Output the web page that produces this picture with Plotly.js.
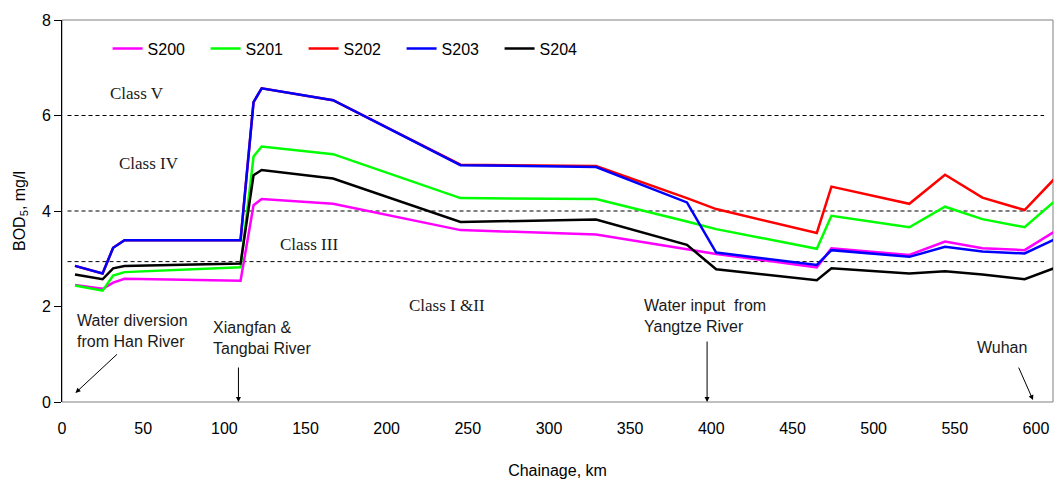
<!DOCTYPE html>
<html>
<head>
<meta charset="utf-8">
<script src="https://cdn.plot.ly/plotly-3.0.1.min.js"></script>
<style>html,body{margin:0;padding:0;background:#fff;}#chart{width:1054px;height:483px;}</style>
</head>
<body>
<div id="chart"></div>
<script>
// Chainage (km)
const chainage = [8, 25, 31.5, 38.5, 110, 118, 123, 167, 245.5, 329, 385, 403, 465, 474, 522, 544, 567, 593, 611];
// BOD5 (mg/l) per scenario
const S200 = [2.45, 2.37, 2.50, 2.58, 2.54, 4.12, 4.25, 4.15, 3.60, 3.51, 3.20, 3.10, 2.82, 3.22, 3.08, 3.36, 3.22, 3.18, 3.56];
const S201 = [2.44, 2.33, 2.65, 2.72, 2.82, 5.14, 5.35, 5.19, 4.27, 4.25, 3.78, 3.62, 3.21, 3.90, 3.66, 4.09, 3.83, 3.66, 4.19];
const S202 = [2.85, 2.69, 3.23, 3.39, 3.39, 6.28, 6.57, 6.32, 4.97, 4.94, 4.27, 4.04, 3.54, 4.51, 4.15, 4.76, 4.28, 4.02, 4.66];
const S203 = [2.85, 2.69, 3.23, 3.39, 3.39, 6.28, 6.57, 6.32, 4.96, 4.92, 4.18, 3.13, 2.87, 3.18, 3.04, 3.25, 3.15, 3.11, 3.40];
const S204 = [2.67, 2.57, 2.80, 2.85, 2.90, 4.75, 4.86, 4.68, 3.77, 3.82, 3.29, 2.78, 2.55, 2.80, 2.69, 2.74, 2.67, 2.57, 2.80];
const seriesNames = ["S200", "S201", "S202", "S203", "S204"];
const seriesColors = ["#FF00FF", "#00FF00", "#FF0000", "#0000FF", "#000000"];
// Water quality class limits (dashed lines)
const classLimits = [2.94, 4, 6];
const classLabels = ["Class V", "Class IV", "Class III", "Class I &II"];
const classLabelPos = [[45.9, 6.47], [53.3, 5.0], [152.4, 3.29], [237.2, 2.03]];
const yTicks = [0, 2, 4, 6, 8];
const xTicks = [0, 50, 100, 150, 200, 250, 300, 350, 400, 450, 500, 550, 600];

const allSeries = [S200, S201, S202, S203, S204];
const traces = allSeries.map((ys, i) => ({
  x: chainage, y: ys, type: 'scatter', mode: 'lines', name: seriesNames[i],
  line: {color: seriesColors[i], width: 2.5}
}));

const shapes = [
  {type: 'rect', xref: 'paper', yref: 'paper', x0: 0, x1: 1, y0: 0, y1: 1,
   line: {color: '#808080', width: 1}, layer: 'below'}
].concat(classLimits.map(v => ({
  type: 'line', xref: 'x', yref: 'y', x0: 3.4, x1: 605, y0: v, y1: v,
  line: {color: '#000', width: 1, dash: '4px,3px'}, layer: 'below'
})));

const sansFont = {family: 'Liberation Sans, Arial, sans-serif', size: 16, color: '#1a1a1a'};
const serifFont = {family: 'Liberation Serif, Times New Roman, serif', size: 17, color: '#1a1a1a'};
const arrowStyle = {text: '', showarrow: true, arrowhead: 2, arrowsize: 1, arrowwidth: 1, arrowcolor: '#000', standoff: 0};

const annotations = classLabels.map((t, i) => ({
  x: classLabelPos[i][0], y: classLabelPos[i][1], text: t, showarrow: false,
  font: serifFont, xanchor: 'center', yanchor: 'middle'
})).concat([
  {x: 7.7, y: 1.49, text: 'Water diversion<br>from Han River', showarrow: false, align: 'left', xanchor: 'left', yanchor: 'middle', font: sansFont},
  {x: 91.5, y: 1.34, text: 'Xiangfan &amp;<br>Tangbai River', showarrow: false, align: 'left', xanchor: 'left', yanchor: 'middle', font: sansFont},
  {x: 357.5, y: 1.80, text: 'Water input\u00a0 from<br>Yangtze River', showarrow: false, align: 'left', xanchor: 'left', yanchor: 'middle', font: sansFont},
  {x: 578.8, y: 1.15, text: 'Wuhan', showarrow: false, xanchor: 'center', yanchor: 'middle', font: sansFont},
  // arrows
  Object.assign({x: 8.3, y: 0.19, ax: 43, ay: -40}, arrowStyle),
  Object.assign({x: 108.7, y: 0, ax: 0, ay: -36}, arrowStyle),
  Object.assign({x: 397.4, y: 0, ax: 0, ay: -62}, arrowStyle),
  Object.assign({x: 598.2, y: 0.04, ax: -15, ay: -34}, arrowStyle)
]);

const layout = {
  width: 1054, height: 483,
  margin: {l: 62, r: 1, t: 20, b: 81},
  paper_bgcolor: '#fff', plot_bgcolor: '#fff',
  font: {family: 'Liberation Sans, Arial, sans-serif', size: 16, color: '#000'},
  showlegend: true,
  legend: {orientation: 'h', x: 0.046, y: 0.925, xanchor: 'left', yanchor: 'middle',
           bgcolor: 'rgba(0,0,0,0)', font: {size: 16, color: '#000'},
           entrywidth: 53, entrywidthmode: 'pixels', tracegroupgap: 0},
  xaxis: {range: [0, 610.5], tickvals: xTicks, ticktext: xTicks.map(String),
          showgrid: false, zeroline: false, showline: false,
          ticks: 'outside', ticklen: 12, tickcolor: 'rgba(0,0,0,0)',
          tickfont: {size: 16, color: '#000'},
          title: {text: 'Chainage, km', font: {size: 16, color: '#000'}, standoff: 28}},
  yaxis: {range: [0, 8], tickvals: yTicks, ticktext: yTicks.map(String),
          showgrid: false, zeroline: false, showline: true, linecolor: '#000', linewidth: 1,
          ticks: 'outside', ticklen: 7, tickcolor: '#000', tickwidth: 1,
          tickfont: {size: 16, color: '#000'},
          title: {text: 'BOD<sub>5</sub>, mg/l', font: {size: 16, color: '#000'}, standoff: 12}},
  shapes: shapes,
  annotations: annotations
};

Plotly.newPlot('chart', traces, layout, {displayModeBar: false, staticPlot: true});
</script>
</body>
</html>
